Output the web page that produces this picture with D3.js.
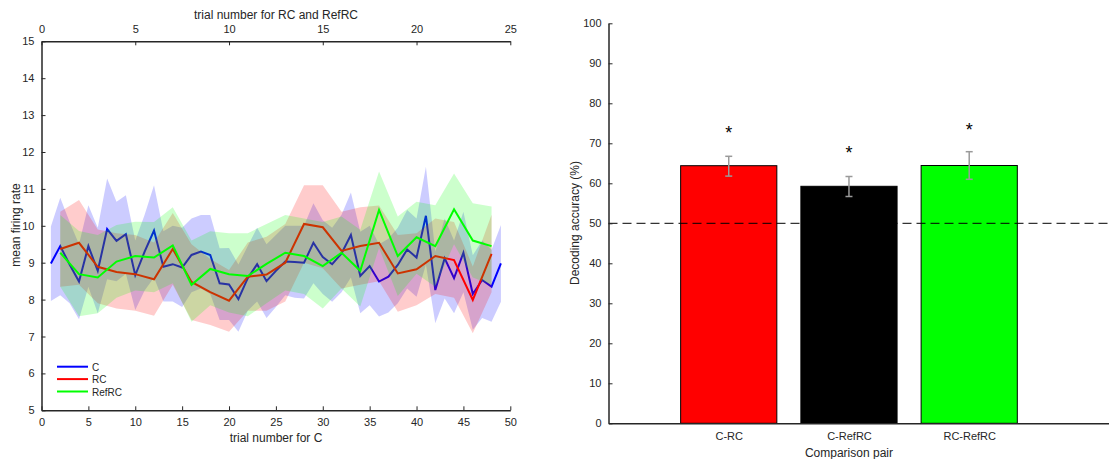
<!DOCTYPE html>
<html>
<head>
<meta charset="utf-8">
<script src="https://cdn.jsdelivr.net/npm/d3@7"></script>
<style>
  html, body { margin: 0; padding: 0; background: #fff; }
  svg { display: block; font-family: "Liberation Sans", Arial, sans-serif; }
  .tick text { fill: #262626; font-size: 11px; }
  .domain, .tick line { stroke: #262626; }
</style>
</head>
<body>
<div id="chart"></div>
<script>
// ---- left panel: mean firing rate per trial ----
var cMean = [8.98, 9.45, 8.95, 8.49, 9.45, 8.78, 9.91, 9.59, 9.77, 8.66,
  9.3, 9.87, 8.89, 8.96, 8.87, 9.21, 9.30, 9.21, 8.44, 8.41,
  8.01, 8.58, 8.96, 8.50, 8.78, 9.03, 9.02, 9.0, 9.54, 9.15,
  8.96, 9.25, 9.75, 8.64, 8.91, 8.49, 8.62, 8.94, 9.36, 9.14,
  10.27, 8.26, 9.12, 8.58, 9.27, 8.15, 8.53, 8.35, 8.98];
var cUpper = [9.98, 10.76, 10.1, 9.5, 10.56, 9.95, 11.28, 10.65, 10.83, 9.6,
  10.3, 11.1, 9.85, 10.0, 9.95, 10.2, 10.29, 10.29, 9.39, 9.4,
  8.95, 9.45, 9.95, 9.5, 9.75, 10.0, 10.0, 10.0, 10.61, 10.15,
  9.95, 10.3, 10.9, 9.84, 10.0, 9.5, 9.65, 9.95, 10.43, 10.2,
  11.6, 9.3, 10.2, 9.6, 10.38, 9.2, 9.6, 9.35, 10.02];
var cLower = [7.96, 8.12, 7.9, 7.47, 8.35, 7.63, 8.55, 8.5, 8.7, 7.72,
  8.25, 8.6, 7.95, 7.95, 7.8, 8.2, 8.3, 8.15, 7.45, 7.45,
  7.13, 7.7, 7.95, 7.5, 7.8, 8.12, 8.05, 8.03, 8.44, 8.15,
  7.94, 8.2, 8.6, 7.63, 7.85, 7.54, 7.65, 7.9, 8.3, 8.08,
  8.95, 7.36, 8.03, 7.63, 8.2, 7.18, 7.5, 7.4, 7.94];

var rcMean = [9.37, 9.54, 8.89, 8.75, 8.69, 8.55, 9.37, 8.48, 8.2, 7.97, 8.62, 8.68,
  9.0, 10.05, 9.96, 9.32, 9.45, 9.54, 8.71, 8.82, 9.18, 9.07, 7.99, 9.24];
var rcUpper = [10.38, 10.7, 9.9, 9.8, 9.75, 9.55, 10.35, 9.5, 9.1, 8.8, 9.55, 9.7,
  10.05, 11.1, 11.1, 10.38, 10.5, 10.55, 9.75, 9.8, 10.2, 10.1, 8.9, 10.3];
var rcLower = [8.35, 8.4, 7.9, 7.76, 7.7, 7.56, 8.4, 7.45, 7.31, 7.13, 7.7, 7.7,
  7.95, 9.0, 8.85, 8.3, 8.4, 8.5, 7.67, 7.85, 8.15, 8.05, 7.09, 8.2];

var refMean = [9.27, 8.69, 8.6, 9.03, 9.18, 9.14, 9.47, 8.4, 8.83, 8.69, 8.64, 8.97,
  9.27, 9.18, 8.91, 9.27, 8.78, 10.43, 9.18, 9.69, 9.45, 10.45, 9.6, 9.45];
var refUpper = [10.29, 9.86, 9.75, 10.02, 10.11, 10.1, 10.5, 9.6, 9.85, 9.8, 9.8, 10.05,
  10.29, 10.2, 10.1, 10.25, 9.89, 11.47, 10.25, 10.65, 10.56, 11.42, 10.61, 10.52];
var refLower = [8.35, 7.55, 7.63, 8.05, 8.25, 8.2, 8.44, 7.4, 7.85, 7.65, 7.55, 7.9,
  8.25, 8.15, 7.76, 8.3, 7.81, 9.4, 8.1, 8.7, 8.35, 9.5, 8.6, 8.4];

var legendNames = ['C', 'RC', 'RefRC'];

// ---- right panel: decoding accuracy ----
var pairs = ['C-RC', 'C-RefRC', 'RC-RefRC'];
var accuracy = [64.4, 59.25, 64.45];
var errLow = [61.8, 56.7, 61.0];
var errHigh = [66.75, 61.7, 67.9];
var starAt = [73.6, 68.6, 74.3];
var chance = 50;

var svg = d3.select('#chart').append('svg')
  .attr('width', 1109).attr('height', 459);

var textCol = '#262626';

// ===== left panel =====
var xC = d3.scaleLinear().domain([0, 50]).range([41.5, 510.3]);
var xR = d3.scaleLinear().domain([0, 25]).range([41.5, 510.3]);
var yL = d3.scaleLinear().domain([5, 15]).range([410.3, 41.3]);

var left = svg.append('g');

function band(mean, upper, lower, xs, step, col) {
  var area = d3.area()
    .x(function(d, i) { return xs((i + 1) * step); })
    .y0(function(d, i) { return yL(lower[i]); })
    .y1(function(d, i) { return yL(upper[i]); });
  left.append('path').datum(mean)
    .attr('d', area)
    .attr('fill', col).attr('fill-opacity', 0.2).attr('stroke', 'none');
}
function line(mean, xs, step, col) {
  var l = d3.line()
    .x(function(d, i) { return xs((i + 1) * step); })
    .y(function(d) { return yL(d); });
  left.append('path').datum(mean)
    .attr('d', l)
    .attr('fill', 'none').attr('stroke', col).attr('stroke-width', 2)
    .attr('stroke-linejoin', 'miter');
}

band(cMean, cUpper, cLower, xC, 1, '#0000ff');
line(cMean, xC, 1, '#0000ff');
band(rcMean, rcUpper, rcLower, xR, 1, '#ff0000');
line(rcMean, xR, 1, '#ff0000');
band(refMean, refUpper, refLower, xR, 1, '#00ff00');
line(refMean, xR, 1, '#00ff00');

left.append('g')
  .attr('transform', 'translate(0,410.3)')
  .call(d3.axisBottom(xC).tickValues(d3.range(0, 51, 5)).tickSizeInner(-4).tickSizeOuter(0).tickPadding(8))
  .call(g => g.select('.domain').attr('stroke-width', 1.5));

left.append('g')
  .attr('transform', 'translate(0,41.3)')
  .call(d3.axisTop(xR).tickValues(d3.range(0, 26, 5)).tickSizeInner(-4).tickSizeOuter(0).tickPadding(8))
  .call(g => g.select('.domain').attr('stroke-width', 1.5));

left.append('g')
  .attr('transform', 'translate(41.5,0)')
  .call(d3.axisLeft(yL).tickValues(d3.range(5, 16, 1)).tickSizeInner(-4).tickSizeOuter(0).tickPadding(7))
  .call(g => g.select('.domain').attr('stroke-width', 1.5));

left.append('text')
  .attr('x', 276).attr('y', 442)
  .attr('text-anchor', 'middle').attr('font-size', 12).attr('fill', textCol)
  .text('trial number for C');
left.append('text')
  .attr('x', 276).attr('y', 19)
  .attr('text-anchor', 'middle').attr('font-size', 12).attr('fill', textCol)
  .text('trial number for RC and RefRC');
left.append('text')
  .attr('transform', 'translate(20,225) rotate(-90)')
  .attr('text-anchor', 'middle').attr('font-size', 12).attr('fill', textCol)
  .text('mean firing rate');

var legCols = ['#0000ff', '#ff0000', '#00ff00'];
var leg = left.append('g');
legendNames.forEach(function(n, i) {
  var yy = 366.7 + i * 12.4;
  leg.append('line').attr('x1', 57).attr('x2', 88).attr('y1', yy).attr('y2', yy)
    .attr('stroke', legCols[i]).attr('stroke-width', 2);
  leg.append('text').attr('x', 92).attr('y', yy + 4)
    .attr('font-size', 10).attr('fill', textCol).text(n);
});

// ===== right panel =====
var xB = d3.scaleLinear().domain([0, 4.2]).range([608.5, 1113.5]);
var yB = d3.scaleLinear().domain([0, 100]).range([423.3, 23.3]);
var right = svg.append('g');

right.selectAll('rect.bar').data(accuracy).enter().append('rect')
  .attr('class', 'bar')
  .attr('x', function(d, i) { return xB(i + 1 - 0.4); })
  .attr('width', xB(0.8) - xB(0))
  .attr('y', function(d) { return yB(d); })
  .attr('height', function(d) { return yB(0) - yB(d); })
  .attr('fill', function(d, i) { return ['#ff0000', '#000000', '#00ff00'][i]; })
  .attr('stroke', '#000').attr('stroke-width', 1);

right.append('line')
  .attr('x1', xB(0)).attr('x2', 1109)
  .attr('y1', yB(chance)).attr('y2', yB(chance))
  .attr('stroke', '#000').attr('stroke-width', 1).attr('stroke-dasharray', '9,5');

var eb = right.selectAll('g.err').data(accuracy).enter().append('g').attr('class', 'err');
eb.append('line')
  .attr('x1', function(d, i) { return xB(i + 1); }).attr('x2', function(d, i) { return xB(i + 1); })
  .attr('y1', function(d, i) { return yB(errLow[i]); }).attr('y2', function(d, i) { return yB(errHigh[i]); })
  .attr('stroke', '#9a9a9a').attr('stroke-width', 1.5);
eb.append('line')
  .attr('x1', function(d, i) { return xB(i + 1) - 3.5; }).attr('x2', function(d, i) { return xB(i + 1) + 3.5; })
  .attr('y1', function(d, i) { return yB(errLow[i]); }).attr('y2', function(d, i) { return yB(errLow[i]); })
  .attr('stroke', '#9a9a9a').attr('stroke-width', 1.5);
eb.append('line')
  .attr('x1', function(d, i) { return xB(i + 1) - 3.5; }).attr('x2', function(d, i) { return xB(i + 1) + 3.5; })
  .attr('y1', function(d, i) { return yB(errHigh[i]); }).attr('y2', function(d, i) { return yB(errHigh[i]); })
  .attr('stroke', '#9a9a9a').attr('stroke-width', 1.5);

right.selectAll('text.star').data(starAt).enter().append('text')
  .attr('class', 'star')
  .attr('x', function(d, i) { return xB(i + 1); })
  .attr('y', function(d) { return yB(d) + 10; })
  .attr('text-anchor', 'middle').attr('font-size', 18).attr('fill', '#000')
  .text('*');

right.append('g')
  .attr('transform', 'translate(608.5,0)')
  .call(d3.axisLeft(yB).tickValues(d3.range(0, 101, 10)).tickSizeInner(-4).tickSizeOuter(0).tickPadding(7))
  .call(g => g.select('.domain').attr('stroke-width', 1.5));

var xAx = right.append('g')
  .attr('transform', 'translate(0,423.3)')
  .call(d3.axisBottom(xB).tickValues([1, 2, 3]).tickFormat(function(d) { return pairs[d - 1]; })
    .tickSizeInner(0).tickSizeOuter(0).tickPadding(9))
  .call(g => g.select('.domain').attr('stroke-width', 1.5));

right.append('text')
  .attr('x', xB(2)).attr('y', 457)
  .attr('text-anchor', 'middle').attr('font-size', 12).attr('fill', textCol)
  .text('Comparison pair');
right.append('text')
  .attr('transform', 'translate(579,223) rotate(-90)')
  .attr('text-anchor', 'middle').attr('font-size', 12).attr('fill', textCol)
  .text('Decoding accuracy (%)');
</script>
</body>
</html>
